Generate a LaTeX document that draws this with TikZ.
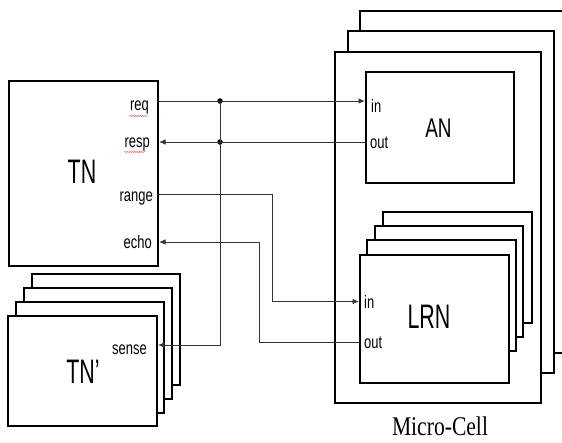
\documentclass[tikz,border=0pt]{standalone}
\usepackage{fontspec}
\setmainfont{Liberation Sans}
\newfontfamily\portfont[FakeStretch=0.72]{Liberation Sans}
\newfontfamily\bigfont[FakeStretch=0.63]{Liberation Sans}
\newfontfamily\anfont[FakeStretch=0.7]{Liberation Sans}
\newfontfamily\cellfont[FakeStretch=0.8]{Liberation Serif}
\usetikzlibrary{arrows.meta,decorations.pathmorphing}
\begin{document}
\begin{tikzpicture}[x=1pt,y=-1pt,
  box/.style={draw=black, line width=1.5pt, fill=white, inner sep=0pt, anchor=north west},
  wire/.style={draw=black!80, line width=0.9pt},
  arr/.style={wire, -{Latex[length=6.5pt,width=5.5pt]}},
  port/.style={font=\portfont\fontsize{18}{18}\selectfont, inner sep=0pt},
  big/.style={font=\bigfont\fontsize{34}{34}\selectfont, inner sep=0pt, anchor=base},
  dot/.style={circle, fill=black, inner sep=0pt, minimum size=5.5pt},
  squig/.style={draw=red!60, line width=0.5pt, decorate, decoration={snake, amplitude=0.7pt, segment length=2.4pt}}]
\useasboundingbox (0,0) rectangle (562,442);
\clip (0,0) rectangle (562,442);
% Micro-Cell stack
\node[box, minimum width=230pt, minimum height=342pt] (mc3) at (359,10) {};
\node[box, minimum width=206pt, minimum height=342pt] (mc2) at (347,30) {};
\node[box, minimum width=206pt, minimum height=351pt] (mc1) at (334,51) {};
\node[font=\cellfont\fontsize{27}{27}\selectfont, inner sep=0pt, anchor=base] (mclabel) at (440,435) {Micro-Cell};
% AN
\node[box, minimum width=148pt, minimum height=111pt] (an) at (365,71) {};
\node[font=\anfont\fontsize{27}{27}\selectfont, inner sep=0pt, anchor=base] (anlabel) at (438.5,137) {AN};
\node[port, anchor=base west] (anin) at (371,112) {in};
\node[port, anchor=base west] (anout) at (370,148) {out};
% LRN stack
\node[box, minimum width=149pt, minimum height=111pt] (lrn4) at (382,211) {};
\node[box, minimum width=148pt, minimum height=111pt] (lrn3) at (374,225) {};
\node[box, minimum width=149pt, minimum height=111pt] (lrn2) at (366,239) {};
\node[box, minimum width=149pt, minimum height=128pt] (lrn1) at (359,254) {};
\node[big] (lrnlabel) at (429,328) {LRN};
\node[port, anchor=base west] (lrnin) at (364,308) {in};
\node[port, anchor=base west] (lrnout) at (364,348) {out};
% TN
\node[box, minimum width=149pt, minimum height=185pt] (tn) at (8,80) {};
\node[big] (tnlabel) at (82,183) {TN};
\node[port, anchor=base east] (req) at (149,110) {req};
\node[port, anchor=base east] (resp) at (150,147) {resp};
\node[port, anchor=base east] (range) at (153,201) {range};
\node[port, anchor=base east] (echo) at (152,248) {echo};
\draw[squig] (req.south west) ++(0,2) -- ++(18,0);
\draw[squig] (resp.south west) ++(0,1) -- ++(21,0);
% TN' stack
\node[box, minimum width=148pt, minimum height=111pt] (tnp4) at (31,273) {};
\node[box, minimum width=148pt, minimum height=111pt] (tnp3) at (23,287) {};
\node[box, minimum width=148pt, minimum height=111pt] (tnp2) at (15,301) {};
\node[box, minimum width=149pt, minimum height=110pt] (tnp1) at (7,315) {};
\node[big] (tnplabel) at (83,383) {TN’};
\node[port, anchor=base east] (sense) at (147,354) {sense};
% port points
\coordinate (reqP) at (158,101);
\coordinate (respP) at (159,142);
\coordinate (rangeP) at (158,194);
\coordinate (echoP) at (159,242);
\coordinate (senseP) at (158,345);
\node[dot] (j1) at (220,101) {};
\node[dot] (j2) at (220,142) {};
\coordinate (c1) at (272,194);
\coordinate (c2) at (259,342);
% connectors
\draw[arr] (reqP) -- (reqP -| an.west);
\draw[arr] (an.west |- respP) -- (respP);
\draw[arr] (j1.center) |- (senseP);
\draw[arr] (rangeP) -- (c1) |- (lrn1.west |- lrnin.west);
\draw[arr] (lrn1.west |- c2) -- (c2) |- (echoP);
\end{tikzpicture}
\end{document}
